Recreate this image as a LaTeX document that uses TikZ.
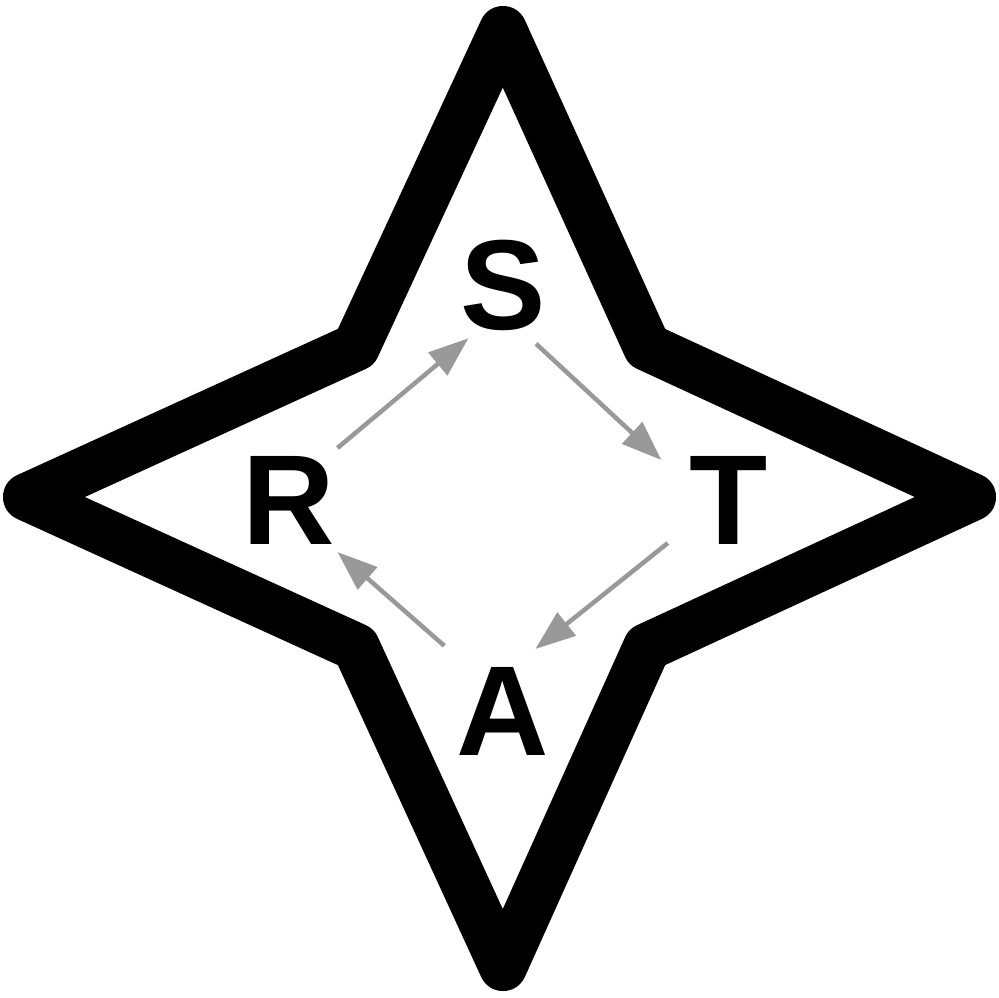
\documentclass[tikz,border=0pt]{standalone}
\usepackage{fontspec}
\setmainfont{Liberation Sans}
\usepackage{tikz}
\usetikzlibrary{arrows.meta, positioning}

\begin{document}
\begin{tikzpicture}[
  x=1pt, y=-1pt,
  letter/.style={font=\fontsize{128}{128}\selectfont\bfseries, inner sep=0pt, outer sep=8pt},
  starline/.style={line width=48pt, line join=round, draw=black},
  arrow/.style={-{Triangle[length=40pt,width=29pt]}, line width=4.5pt, draw=black!40, fill=black!40}
]
\useasboundingbox (0,0) rectangle (999,997);

% Star outline
\draw[starline] (503,30) -- (356,347) -- (27,497) -- (356,647) -- (503,967)
  -- (647,647) -- (972,497) -- (647,347) -- cycle;

% Letters
\node[letter] (S) at (503,285) {S};
\node[letter] (T) at (729,500) {T};
\node[letter] (A) at (503,711) {A};
\node[letter] (R) at (289,500) {R};

% Cycle arrows
\draw[arrow] (R.47) -- (S.237);
\draw[arrow, shorten <=8pt, shorten >=28pt] (S.-63) -- (T.156);
\draw[arrow, shorten <=18pt, shorten >=16pt] (T.214) -- (A.69);
\draw[arrow, shorten <=20pt] (A.130) -- (R.-47);

\end{tikzpicture}
\end{document}
